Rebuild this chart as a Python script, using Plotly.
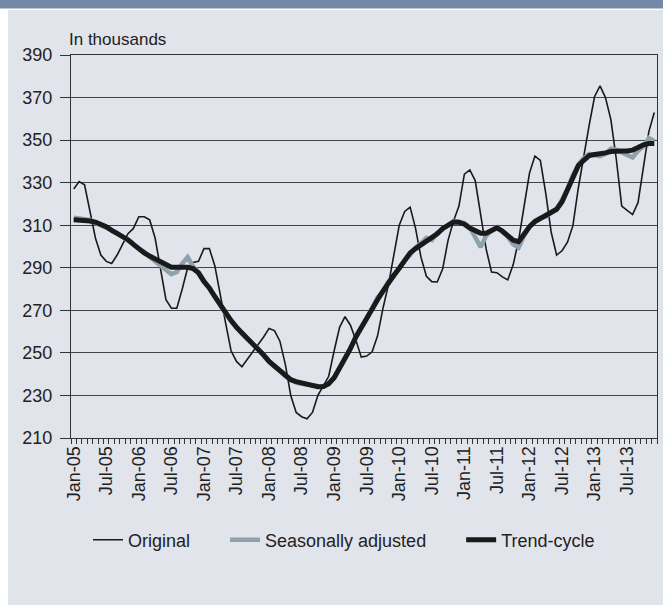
import plotly.graph_objects as go

# monthly series, Jan-2005 .. Dec-2013 (in thousands)
ORIGINAL = [
    327, 330.5, 329, 317, 304, 296, 293, 292, 296, 301, 306, 308.5,
    314, 314, 312.5, 304, 289, 275, 271, 271, 280, 290, 292.5, 293,
    299, 299, 291, 277, 264, 251, 246, 243.5, 247, 250.5, 253.5, 257.5,
    261.5, 260.5, 255.5, 244.6, 230, 222, 220, 219, 222, 230, 234.5, 239,
    251, 262, 267, 263, 256, 248, 248.5, 250.5, 258, 271, 282, 296,
    310, 316.5, 318.5, 308.5, 295, 286, 283.5, 283.3, 289.5, 303, 312, 319,
    334, 336, 331, 315, 299, 288, 287.7, 285.7, 284.3, 291.5, 303, 318.8,
    334.5, 342.5, 340.5, 325, 306.7, 296, 298, 302, 309.8, 327.5, 343, 357,
    370.5, 375.5, 370, 359.6, 341, 319, 317, 315, 320.6, 337.6, 354, 363,
]
SEAS_ADJ = [
    313.5, 313, 312.5, 312.5, 311, 310, 309, 307.5, 306.5, 304.5, 303, 301,
    299, 297.5, 295, 293, 291, 288.5, 287, 288, 292, 295, 290.5, 288,
    284, 280, 276.5, 272, 268.5, 265.5, 262, 259, 256.5, 254.5, 252, 249,
    246, 243.5, 241.5, 239, 237.5, 236, 235.5, 235, 234.5, 234, 234, 235.5,
    238.5, 243, 248, 253, 258, 262, 266, 271, 276, 279, 283.5, 286,
    290, 293.5, 296, 299.5, 301.5, 304, 303, 306.5, 308, 310, 312, 311.5,
    311, 309, 304, 299.7, 305, 307.5, 309, 306.5, 304.5, 301, 299.5, 305,
    309.5, 312, 313.5, 314, 315.5, 317.5, 322, 327, 333.5, 338.5, 341.5, 343.5,
    343, 342.5, 343.5, 346, 345.5, 344.5, 343, 341.8, 345, 347, 351, 349.5,
]
TREND = [
    312.6, 312.5, 312.3, 312, 311.5, 310.7, 309.3, 307.6, 306.3, 305, 303.2, 301,
    298.8, 297, 295.5, 294.2, 292.8, 291, 290.3, 290.3, 290.3, 290.2, 289.6, 287.6,
    283.5, 280.5, 276.5, 272.6, 268.8, 265.2, 262, 259.5, 257, 254.8, 251.8, 249,
    246, 243.8, 241.5, 239.3, 237.4, 236.5, 235.8, 235.3, 234.8, 234.1, 234.2, 235.5,
    238.3, 242.5, 247, 252, 257.5, 262, 267, 271.5, 275, 279, 283, 286.5,
    289.8, 293.5, 297, 299, 300.8, 302.5, 304, 306, 308.5, 310.3, 311.5, 311.4,
    310.5, 308.7, 307.2, 306.2, 306.2, 307.5, 308.8, 307.3, 305, 303, 302.3, 306,
    309.3, 311.7, 313.2, 314.8, 316, 317.5, 321, 327, 333, 338, 340.5, 342.7,
    343.2, 343.4, 344, 344.6, 344.9, 344.9, 344.9, 345.3, 346.5, 347.8, 348.4, 348.4,
]
TICK_LABELS = ["Jan-05", "Jul-05", "Jan-06", "Jul-06", "Jan-07", "Jul-07", "Jan-08", "Jul-08", "Jan-09",
               "Jul-09", "Jan-10", "Jul-10", "Jan-11", "Jul-11", "Jan-12", "Jul-12", "Jan-13", "Jul-13"]
Y_TICKS = [210, 230, 250, 270, 290, 310, 330, 350, 370, 390]
NAMES = ["Original", "Seasonally adjusted", "Trend-cycle"]

x = list(range(len(ORIGINAL)))
tick_pos = [i * 6 for i in range(len(TICK_LABELS))]

W, H = 663, 605
L, R, T, B = 71, 6, 55, 167
PW, PH = W - L - R, H - T - B
FONT = "Liberation Sans, Arial, sans-serif"
PANEL = "#e1e4eb"
PAD = "\u00a0" * 6  # extra room between legend entries


def px_x(p):
    return (p - L) / PW


def px_y(p):
    return (H - B - p) / PH


fig = go.Figure()
fig.add_trace(go.Scatter(x=x, y=ORIGINAL, mode="lines", name=NAMES[0] + PAD,
                         line=dict(color="#1a1a1a", width=1.6)))
fig.add_trace(go.Scatter(x=x, y=SEAS_ADJ, mode="lines", name=NAMES[1] + PAD,
                         line=dict(color="#8fa1ab", width=4.5)))
fig.add_trace(go.Scatter(x=x, y=TREND, mode="lines", name=NAMES[2],
                         line=dict(color="#1a1a1a", width=5)))

# background panel, white left strip and header band
fig.add_shape(type="rect", xref="paper", yref="paper", layer="below",
              x0=px_x(8), x1=px_x(W + 2), y0=px_y(H + 2), y1=px_y(10),
              fillcolor=PANEL, line_width=0)
fig.add_shape(type="rect", xref="paper", yref="paper", layer="below",
              x0=px_x(-2), x1=px_x(W + 2), y0=px_y(8.5), y1=px_y(-2),
              fillcolor="#7489a8", line_width=0)

fig.add_annotation(text="In thousands", xref="paper", yref="paper", x=px_x(67), y=px_y(40),
                   xanchor="left", yanchor="middle", showarrow=False,
                   font=dict(family=FONT, size=17, color="#222"))

fig.update_layout(
    width=W, height=H,
    margin=dict(l=L, r=R, t=T, b=B, pad=0),
    paper_bgcolor="white", plot_bgcolor="rgba(0,0,0,0)",
    font=dict(family=FONT, size=18, color="#222"),
    showlegend=True,
    legend=dict(orientation="h", x=px_x(344), xanchor="center", y=px_y(540), yanchor="middle",
                bgcolor="rgba(0,0,0,0)", font=dict(size=18), traceorder="normal"),
)
fig.update_xaxes(
    range=[-0.5, len(x) - 0.5], tickmode="array", tickvals=tick_pos, ticktext=TICK_LABELS,
    tickangle=-90, ticks="", showgrid=False, zeroline=False,
    showline=True, linecolor="#333", linewidth=1.2, mirror=True,
    tickfont=dict(size=18),
    minor=dict(tickmode="linear", tick0=-0.5, dtick=1, ticks="outside", ticklen=5,
               tickcolor="#333", tickwidth=1, showgrid=False),
)
fig.update_yaxes(
    range=[210, 390], tickmode="array", tickvals=Y_TICKS, ticks="outside", ticklen=10,
    ticklabelstandoff=4,
    tickcolor="#333", showgrid=True, gridcolor="#444", gridwidth=1.2, zeroline=False,
    showline=True, linecolor="#333", linewidth=1.2, mirror=True,
    tickfont=dict(size=18),
)

fig.write_html("out.html", config={"displayModeBar": False},
               post_script="document.body.style.margin='0';")
